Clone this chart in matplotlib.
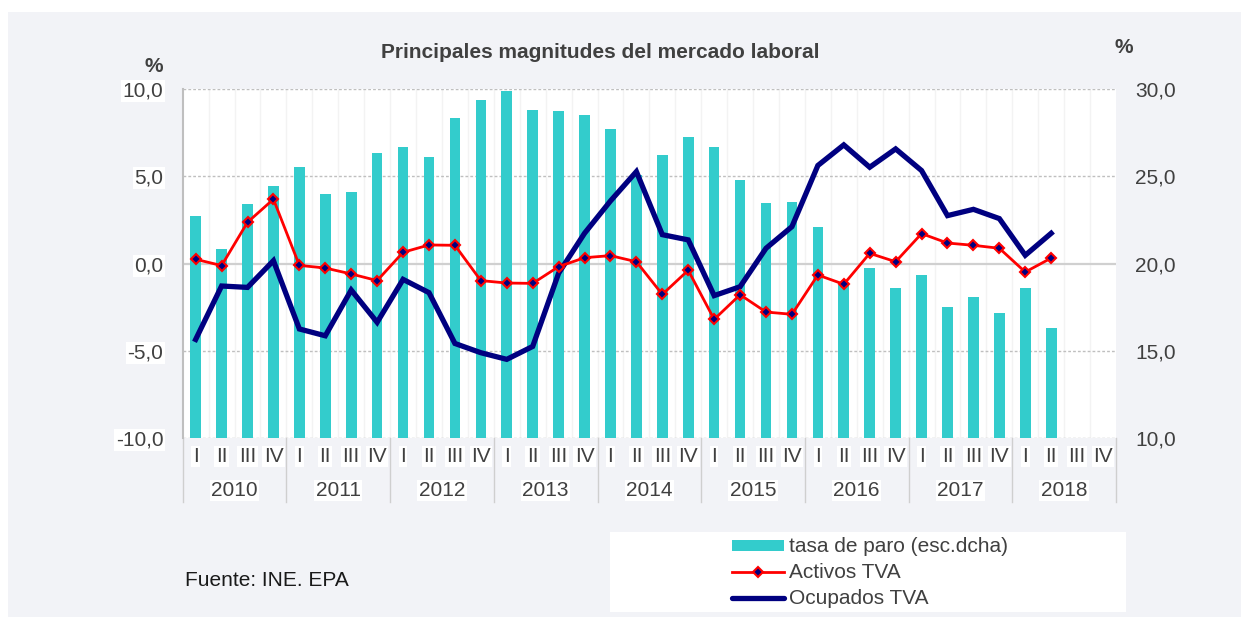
import matplotlib
matplotlib.use("Agg")
import matplotlib.pyplot as plt
import matplotlib.transforms as mtransforms
from matplotlib.patches import Rectangle
from matplotlib.lines import Line2D

plt.rcParams['font.family'] = ['Liberation Sans', 'DejaVu Sans']

# ---------------- data ----------------
years = ['2010', '2011', '2012', '2013', '2014', '2015', '2016', '2017', '2018']
quarters = ['I', 'II', 'III', 'IV']

tasa_paro = [22.7, 20.85, 23.43, 24.44,
             25.55, 23.96, 24.12, 26.31,
             26.68, 26.08, 28.34, 29.39,
             29.9, 28.8, 28.72, 28.51,
             27.71, 25.05, 26.24, 27.27,
             26.68, 24.79, 23.49, 23.52,
             22.11, 18.75, 19.76, 18.58,
             19.34, 17.49, 18.1, 17.2,
             18.6, 16.3]

activos_tva = [0.25, -0.11, 2.37, 3.69,
               -0.1, -0.25, -0.59, -0.97,
               0.65, 1.07, 1.05, -0.97,
               -1.11, -1.13, -0.17, 0.34,
               0.46, 0.11, -1.76, -0.38,
               -3.19, -1.78, -2.77, -2.9,
               -0.65, -1.18, 0.59, 0.11,
               1.72, 1.18, 1.05, 0.88,
               -0.48, 0.32]

ocupados_tva = [-4.34, -1.28, -1.36, 0.17,
                -3.74, -4.13, -1.51, -3.36,
                -0.9, -1.66, -4.57, -5.1,
                -5.48, -4.74, -0.55, 1.74,
                3.59, 5.27, 1.66, 1.36,
                -1.83, -1.32, 0.88, 2.12,
                5.62, 6.8, 5.52, 6.57,
                5.33, 2.75, 3.11, 2.58,
                0.48, 1.74]

left_ticks = [-10, -5, 0, 5, 10]
right_ticks = [10, 15, 20, 25, 30]

# ---------------- styling ----------------
W, H = 1241, 617
BG = '#F2F3F7'
TXT = '#404040'
BAR = '#33CCCC'
RED = '#FF0000'
NAVY = '#000080'
FS = 15

fig = plt.figure(figsize=(W / 100, H / 100), dpi=100, facecolor='white')
# grey chart area (white strip along top and left edges)
fig.patches.append(Rectangle((8 / W, 0), (W - 8) / W, (H - 12) / H,
                             transform=fig.transFigure, facecolor=BG,
                             edgecolor='none', zorder=-10))

x0, x1 = 182.7, 1116.0
y_top, y_bot = 89.0, 438.3
rect = [x0 / W, 1 - y_bot / H, (x1 - x0) / W, (y_bot - y_top) / H]

n_cat = len(years) * len(quarters)
xs = list(range(n_cat))

# bars axis (right scale)
axb = fig.add_axes(rect)
axb.set_facecolor('white')
axb.set_xlim(-0.5, n_cat - 0.5)
axb.set_ylim(10, 30)
axb.bar(xs[:len(tasa_paro)], tasa_paro, width=0.41, color=BAR, zorder=3)
axb.set_xticks([])
for s in axb.spines.values():
    s.set_visible(False)
for k in range(1, n_cat):
    axb.axvline(k - 0.5, color='#F3F3F3', lw=1.0, zorder=1)

# lines axis (left scale)
axl = axb.twinx()
axl.set_ylim(-10, 10)
axl.set_xlim(-0.5, n_cat - 0.5)

# tick placement (after twinx, which resets tick sides)
axb.yaxis.set_ticks_position('right')
axb.yaxis.set_label_position('right')
axb.set_yticks(right_ticks)
axb.set_yticklabels([f"{v:.1f}".replace('.', ',') for v in right_ticks])
axb.tick_params(axis='y', which='both', left=False, labelleft=False,
                right=False, labelright=True, length=0, pad=14,
                labelsize=FS, labelcolor=TXT)

axl.yaxis.set_ticks_position('left')
axl.yaxis.set_label_position('left')
axl.set_yticks(left_ticks)
axl.set_yticklabels([f"{v:.1f}".replace('.', ',') for v in left_ticks])
axl.tick_params(axis='y', which='both', right=False, labelright=False,
                left=False, labelleft=True, length=0, pad=14,
                labelsize=FS, labelcolor=TXT)
for lab in axl.get_yticklabels():
    lab.set_bbox(dict(facecolor='white', edgecolor='none', pad=1))
for s in axl.spines.values():
    s.set_visible(False)
axl.spines['left'].set_visible(True)
axl.spines['left'].set_color('#BFBFBF')
axl.spines['left'].set_linewidth(1.5)

# horizontal grid lines (behind bars)
for v in left_ticks:
    yv = 10 + (v + 10)
    if v == 0:
        axb.axhline(yv, color='#D0D0D0', lw=1.6, zorder=2)
    else:
        axb.axhline(yv, color='#BFBFBF', lw=1.0, ls=(0, (2, 1.5)), zorder=2)

axl.plot(xs[:len(ocupados_tva)], ocupados_tva, color=NAVY, lw=3.8,
         solid_joinstyle='miter', zorder=4)
axl.plot(xs[:len(activos_tva)], activos_tva, color=RED, lw=2.0,
         marker='D', markersize=5, markerfacecolor=NAVY,
         markeredgecolor=RED, markeredgewidth=1.5, zorder=5)

# category labels
trans = mtransforms.blended_transform_factory(axl.transData, axl.transAxes)
ax_h = y_bot - y_top
y_q = -(456.5 - y_bot) / ax_h
y_y = -(490.5 - y_bot) / ax_h
y_sep = -(501.7 - y_bot) / ax_h
for i in range(n_cat):
    axl.text(i, y_q, quarters[i % 4], transform=trans, ha='center', va='center',
             fontsize=FS, color=TXT, clip_on=False,
             bbox=dict(facecolor='white', edgecolor='none', pad=1))
for j, yr in enumerate(years):
    axl.text(4 * j + 1.5, y_y, yr, transform=trans, ha='center', va='center',
             fontsize=FS, color=TXT, clip_on=False,
             bbox=dict(facecolor='white', edgecolor='none', pad=1))
for j in range(len(years) + 1):
    axl.add_line(Line2D([4 * j - 0.5, 4 * j - 0.5], [0, y_sep], transform=trans,
                        color='#CFCFCF', lw=1.0, clip_on=False))

# titles / labels
fig.text(600 / W, 1 - 58.3 / H, 'Principales magnitudes del mercado laboral',
         ha='center', va='baseline', fontsize=FS, fontweight='bold', color=TXT)
fig.text(153.7 / W, 1 - 71.7 / H, '%', ha='center', va='baseline',
         fontsize=FS, fontweight='bold', color=TXT)
fig.text(1124 / W, 1 - 52.7 / H, '%', ha='center', va='baseline',
         fontsize=FS, fontweight='bold', color=TXT)
fig.text(185 / W, 1 - 586 / H, 'Fuente: INE. EPA', ha='left', va='baseline',
         fontsize=FS, color='#1a1a1a')

# legend box
fig.patches.append(Rectangle((610 / W, 1 - 611.7 / H), (1126 - 610) / W, 80 / H,
                             transform=fig.transFigure, facecolor='white',
                             edgecolor='none', zorder=0))
fig.patches.append(Rectangle((731.7 / W, 1 - 550.7 / H), 52.3 / W, 10.7 / H,
                             transform=fig.transFigure, facecolor=BAR,
                             edgecolor='none'))
fig.lines.append(Line2D([731.7 / W, 784 / W], [1 - 571.7 / H] * 2,
                        transform=fig.transFigure, color=RED, lw=2.0))
fig.lines.append(Line2D([757.8 / W], [1 - 571.7 / H], transform=fig.transFigure,
                        color=RED, marker='D', markersize=5, markerfacecolor=NAVY,
                        markeredgecolor=RED, markeredgewidth=1.5, lw=0))
fig.lines.append(Line2D([731.7 / W, 784 / W], [1 - 597.7 / H] * 2,
                        transform=fig.transFigure, color=NAVY, lw=3.8,
                        solid_capstyle='round'))
for lab, yb in [('tasa de paro (esc.dcha)', 551.7), ('Activos TVA', 578.3),
                ('Ocupados TVA', 604.3)]:
    fig.text(789 / W, 1 - yb / H, lab, ha='left', va='baseline', fontsize=FS,
             color=TXT)

fig.savefig('out.png', dpi=100, facecolor='white')
